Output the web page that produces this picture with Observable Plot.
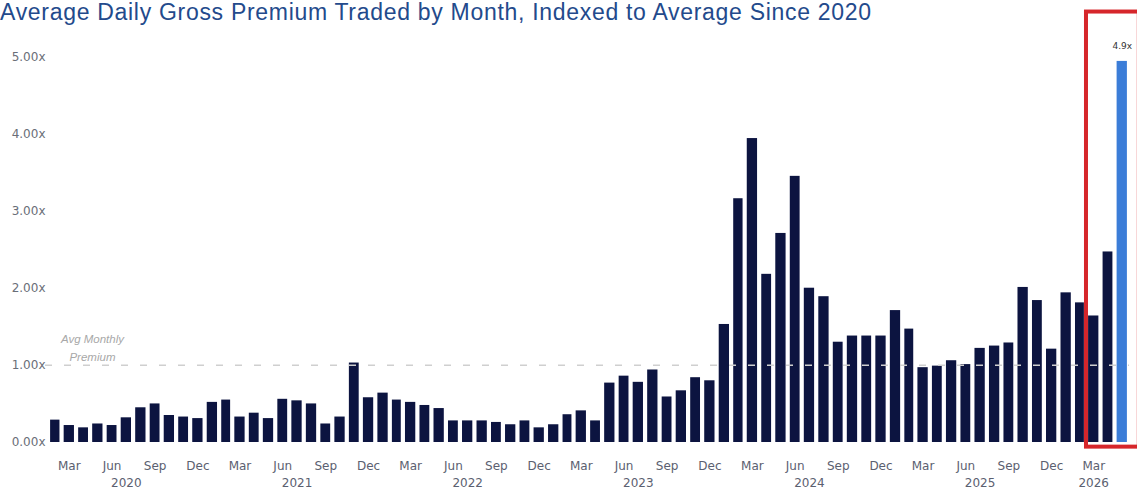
<!DOCTYPE html>
<html><head><meta charset="utf-8">
<script src="https://cdn.jsdelivr.net/npm/d3@7"></script>
<script src="https://cdn.jsdelivr.net/npm/@observablehq/plot@0.6"></script>
<style>
html,body{margin:0;padding:0;background:#fff;}
#wrap{position:relative;width:1137px;height:492px;overflow:hidden;background:#fff;}
#title{position:absolute;left:0;top:-1px;font-family:"Liberation Sans",Arial,sans-serif;font-size:23px;line-height:27px;letter-spacing:0.7px;color:#234a8c;white-space:nowrap;z-index:2;}
#chart{position:absolute;left:0;top:0;}
</style></head><body>
<div id="wrap">
<div id="title">Average Daily Gross Premium Traded by Month, Indexed to Average Since 2020</div>
<div id="chart"></div>
</div>
<script>
// Monthly index values, Feb 2020 .. May 2026 (average since 2020 = 1.00x)
const firstMonth = "2020-02-01";
const lastMonth = "2026-05-01";
const values2020 = [0.29, 0.22, 0.19, 0.24, 0.22, 0.32, 0.45, 0.50, 0.35, 0.33, 0.31]; // Feb-Dec
const values2021 = [0.52, 0.55, 0.33, 0.38, 0.31, 0.56, 0.54, 0.50, 0.24, 0.33, 1.03, 0.58];
const values2022 = [0.64, 0.55, 0.52, 0.48, 0.44, 0.28, 0.28, 0.28, 0.26, 0.23, 0.28, 0.19];
const values2023 = [0.23, 0.36, 0.41, 0.28, 0.77, 0.86, 0.78, 0.94, 0.59, 0.67, 0.84, 0.80];
const values2024 = [1.53, 3.16, 3.94, 2.18, 2.71, 3.45, 2.00, 1.89, 1.30, 1.38, 1.38, 1.38];
const values2025 = [1.71, 1.47, 0.97, 0.99, 1.06, 1.01, 1.22, 1.25, 1.29, 2.01, 1.84, 1.21];
const values2026 = [1.94, 1.81, 1.64, 2.47, 4.94]; // Jan-May
const values = [...values2020, ...values2021, ...values2022, ...values2023, ...values2024, ...values2025, ...values2026];

const averageLevel = 1.0;
const averageNote = "Avg Monthly\nPremium";
const currentLabel = "4.9x";
const yTicks = [0, 1, 2, 3, 4, 5];
const monthTickLabels = ["Mar", "Jun", "Sep", "Dec"];
const yearLabels = ["2020", "2021", "2022", "2023", "2024", "2025", "2026"];
const yearLabelMonths = ["2020-07", "2021-07", "2022-07", "2023-07", "2024-07", "2025-07", "2026-03"];
const highlightStart = "2026-03-01";

const months = d3.utcMonth.range(new Date(firstMonth), d3.utcMonth.offset(new Date(lastMonth), 1));
const mid = d => new Date((+d + +d3.utcMonth.offset(d, 1)) / 2);
const data = months.map((d, i) => ({date: d, end: d3.utcMonth.offset(d, 1), mid: mid(d), value: values[i], current: i === values.length - 1}));

const fmtMon = d3.utcFormat("%b");
const monthTicks = data.filter(d => monthTickLabels.includes(fmtMon(d.date))).map(d => d.mid);
const yearTicks = yearLabelMonths.map(m => mid(new Date(m + "-01")));

const axisColor = "#5b6070";
const chart = Plot.plot({
  width: 1137,
  height: 492,
  marginLeft: 48,
  marginRight: 8,
  marginTop: 10,
  marginBottom: 50,
  style: {fontFamily: "'DejaVu Sans', Verdana, sans-serif", background: "transparent", overflow: "visible"},
  x: {type: "utc", domain: [new Date(firstMonth), d3.utcMonth.offset(new Date(lastMonth), 1)], axis: null},
  y: {domain: [0, 5.6], axis: null},
  marks: [
    Plot.rectY(data.filter(d => !d.current), {x1: "date", x2: "end", y: "value", fill: "#0c1440", insetLeft: 2.1, insetRight: 2.1}),
    Plot.rectY(data.filter(d => d.current), {x1: "date", x2: "end", y: "value", fill: "#3b7dd8", insetLeft: 2.1, insetRight: 2.1}),
    Plot.ruleY([averageLevel], {stroke: "#cfcfcf", strokeWidth: 1.5, strokeDasharray: "7,12", insetLeft: -3}),
    Plot.text([averageNote], {x: () => new Date("2020-05-05"), y: () => 1.25, text: d => d, fontStyle: "italic", fill: "#a8a8a8", fontSize: 11.5, lineHeight: 1.55, fontFamily: "'Liberation Sans', Arial, sans-serif"}),
    Plot.text(data.filter(d => d.current), {x: "mid", y: "value", text: () => currentLabel, dy: -15, fontSize: 9, fill: "#333"}),
    Plot.rect([highlightStart], {x1: d => new Date(d), x2: () => new Date("2026-06-22"), y1: () => -0.06, y2: () => 5.58, stroke: "#d6262b", strokeWidth: 4, fill: "none"}),
    Plot.axisY(yTicks, {tickSize: 0, tickPadding: 3, tickFormat: d => d.toFixed(2) + "x", fontSize: 12, color: "#6a6e78", label: null}),
    Plot.axisX(monthTicks, {tickSize: 0, tickPadding: 19, tickFormat: d => fmtMon(d), fontSize: 12, color: axisColor, label: null}),
    Plot.axisX(yearTicks, {tickSize: 0, tickPadding: 36, tickFormat: (d, i) => yearLabels[i], fontSize: 12, color: axisColor, label: null})
  ]
});
document.getElementById("chart").appendChild(chart);
</script>
</body></html>
